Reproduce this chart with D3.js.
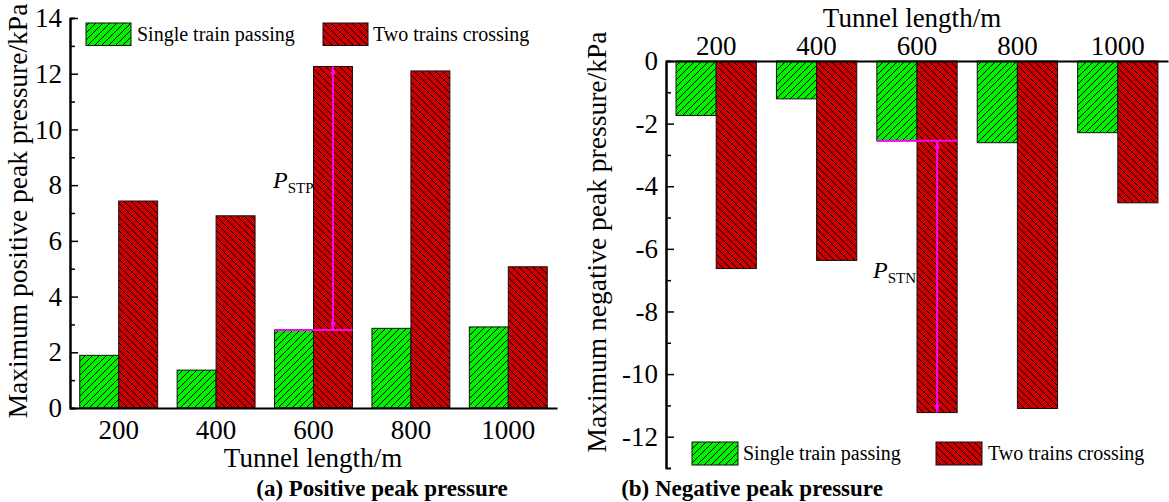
<!DOCTYPE html>
<html>
<head>
<meta charset="utf-8">
<script src="https://cdn.jsdelivr.net/npm/d3@7"></script>
<style>
  body { margin: 0; background: #fff; }
  svg text { font-family: "Liberation Serif", "Times New Roman", serif; }
</style>
</head>
<body>
<svg id="chart" width="1169" height="502"></svg>
<script>
// data
const lengths = ["200", "400", "600", "800", "1000"]
const seriesNames = ["Single train passing", "Two trains crossing"]
const singlePos = [1.89, 1.36, 2.80, 2.86, 2.91]
const twoPos = [7.43, 6.90, 12.26, 12.10, 5.07]
const singleNeg = [-1.74, -1.21, -2.55, -2.61, -2.29]
const twoNeg = [-6.63, -6.37, -11.23, -11.10, -4.53]
const posTicks = [0, 2, 4, 6, 8, 10, 12, 14]
const negTicks = [0, -2, -4, -6, -8, -10, -12]

const svg = d3.select("#chart")
const green = "#00f000", red = "#cc0000"
const serif = '"Liberation Serif", "Times New Roman", serif'

// hatch patterns
const defs = svg.append("defs")
function hatch(id, fill, dir) {
  const w = 7
  const p = defs.append("pattern").attr("id", id)
    .attr("patternUnits", "userSpaceOnUse").attr("width", w).attr("height", w)
  p.append("rect").attr("width", w).attr("height", w).attr("fill", fill)
  p.append("path")
    .attr("d", dir == "/"
      ? `M-2,2 l4,-4 M0,${w} l${w},-${w} M${w - 2},${w + 2} l4,-4`
      : `M-2,${w - 2} l4,4 M0,0 l${w},${w} M${w - 2},-2 l4,4`)
    .attr("stroke", "#000").attr("stroke-width", 1)
}
hatch("hG", green, "/")
hatch("hR", red, "\\")
const fills = ["url(#hG)", "url(#hR)"]

defs.append("marker").attr("id", "arr").attr("viewBox", "0 0 10 10")
  .attr("refX", 10).attr("refY", 5).attr("markerWidth", 4).attr("markerHeight", 4)
  .attr("markerUnits", "strokeWidth").attr("orient", "auto-start-reverse")
  .append("path").attr("d", "M0,1.5 L10,5 L0,8.5 Z").attr("fill", "#ff00ff")

function styleAxis(g) {
  g.attr("font-family", serif)
  g.select(".domain").attr("stroke", "#000").attr("stroke-width", 2)
  g.selectAll(".tick line").attr("stroke", "#000").attr("stroke-width", 1.5)
  g.selectAll("text").attr("font-size", 27).attr("fill", "#000").style("font-family", serif)
}

// ---------- (a) positive ----------
const xA = d3.scaleBand().domain(lengths).range([70, 557]).paddingInner(0.2).paddingOuter(0.1)
const sA = d3.scaleBand().domain([0, 1]).range([0, xA.bandwidth()])
const yA = d3.scaleLinear().domain([0, 14]).range([408, 18])

const gA = svg.append("g")
lengths.forEach((l, i) => {
  [singlePos[i], twoPos[i]].forEach((v, k) => {
    gA.append("rect")
      .attr("x", xA(l) + sA(k)).attr("width", sA.bandwidth())
      .attr("y", yA(v)).attr("height", yA(0) - yA(v))
      .attr("fill", fills[k]).attr("stroke", "#111").attr("stroke-width", 1)
  })
})

gA.append("g").attr("transform", "translate(70,0)")
  .call(d3.axisLeft(yA).tickValues(d3.range(1, 14, 2)).tickSize(-5).tickFormat(""))
  .call(styleAxis)
gA.append("g").attr("transform", "translate(70,0)")
  .call(d3.axisLeft(yA).tickValues(posTicks).tickSize(-8).tickSizeOuter(0).tickPadding(8).tickFormat(d => String(d)))
  .call(styleAxis)
gA.append("g").attr("transform", "translate(0,408)")
  .call(d3.axisBottom(xA).tickSize(0).tickPadding(12))
  .call(styleAxis)

gA.append("text").attr("x", 313).attr("y", 467).attr("text-anchor", "middle")
  .attr("font-size", 27).text("Tunnel length/m")
gA.append("text").attr("transform", "translate(27,211) rotate(-90)").attr("text-anchor", "middle")
  .attr("font-size", 27.5).text("Maximum positive peak pressure/kPa")
gA.append("text").attr("x", 382).attr("y", 496).attr("text-anchor", "middle")
  .attr("font-size", 23).attr("font-weight", "bold").text("(a) Positive peak pressure")

// legend a
const legA = [[86, 23, 137], [323, 23, 373]]
legA.forEach((p, k) => {
  gA.append("rect").attr("x", p[0]).attr("y", p[1]).attr("width", 45).attr("height", 22.5)
    .attr("fill", fills[k]).attr("stroke", "#111")
  gA.append("text").attr("x", p[2]).attr("y", 41).attr("font-size", 20).text(seriesNames[k])
})

// P_STP annotation
{
  const i = 2
  const yb = yA(singlePos[i]), yt = yA(twoPos[i])
  const xm = xA(lengths[i]) + sA(1) + sA.bandwidth() / 2
  gA.append("line").attr("x1", xA(lengths[i])).attr("x2", xA(lengths[i]) + xA.bandwidth())
    .attr("y1", yb).attr("y2", yb).attr("stroke", "#ff00ff").attr("stroke-width", 2)
  gA.append("line").attr("x1", xm).attr("x2", xm).attr("y1", yb).attr("y2", yt)
    .attr("stroke", "#ff00ff").attr("stroke-width", 2)
    .attr("marker-start", "url(#arr)").attr("marker-end", "url(#arr)")
  const t = gA.append("text").attr("x", 273).attr("y", 188).attr("font-size", 24)
  t.append("tspan").attr("font-style", "italic").text("P")
  t.append("tspan").attr("font-size", 15).attr("dy", 5).text("STP")
}

// ---------- (b) negative ----------
const xB = d3.scaleBand().domain(lengths).range([666, 1168]).paddingInner(0.2).paddingOuter(0.1)
const sB = d3.scaleBand().domain([0, 1]).range([0, xB.bandwidth()])
const yB = d3.scaleLinear().domain([-13, 0]).range([468, 61])

const gB = svg.append("g")
lengths.forEach((l, i) => {
  [singleNeg[i], twoNeg[i]].forEach((v, k) => {
    gB.append("rect")
      .attr("x", xB(l) + sB(k)).attr("width", sB.bandwidth())
      .attr("y", yB(0)).attr("height", yB(v) - yB(0))
      .attr("fill", fills[k]).attr("stroke", "#111").attr("stroke-width", 1)
  })
})

gB.append("g").attr("transform", "translate(666,0)")
  .call(d3.axisLeft(yB).tickValues(d3.range(-1, -13, -2)).tickSize(-5).tickFormat(""))
  .call(styleAxis)
gB.append("g").attr("transform", "translate(666,0)")
  .call(d3.axisLeft(yB).tickValues(negTicks).tickSize(-8).tickSizeOuter(0).tickPadding(8).tickFormat(d => String(d)))
  .call(styleAxis)
gB.append("g").attr("transform", "translate(0,61)")
  .call(d3.axisTop(xB).tickSize(0).tickPadding(6))
  .call(styleAxis)

gB.append("text").attr("x", 912).attr("y", 27).attr("text-anchor", "middle")
  .attr("font-size", 27).text("Tunnel length/m")
gB.append("text").attr("transform", "translate(606,242) rotate(-90)").attr("text-anchor", "middle")
  .attr("font-size", 27.5).text("Maximum negative peak pressure/kPa")
gB.append("text").attr("x", 752).attr("y", 496).attr("text-anchor", "middle")
  .attr("font-size", 23).attr("font-weight", "bold").text("(b) Negative peak pressure")

const legB = [[692, 442, 743], [936, 442, 988]]
legB.forEach((p, k) => {
  gB.append("rect").attr("x", p[0]).attr("y", p[1]).attr("width", 46).attr("height", 23)
    .attr("fill", fills[k]).attr("stroke", "#111")
  gB.append("text").attr("x", p[2]).attr("y", p[1] + 18).attr("font-size", 20).text(seriesNames[k])
})

// P_STN annotation
{
  const i = 2
  const yt = yB(singleNeg[i]), yb = yB(twoNeg[i])
  const xm = xB(lengths[i]) + sB(1) + sB.bandwidth() / 2
  gB.append("line").attr("x1", xB(lengths[i])).attr("x2", xB(lengths[i]) + xB.bandwidth())
    .attr("y1", yt).attr("y2", yt).attr("stroke", "#ff00ff").attr("stroke-width", 2)
  gB.append("line").attr("x1", xm).attr("x2", xm).attr("y1", yt).attr("y2", yb)
    .attr("stroke", "#ff00ff").attr("stroke-width", 2)
    .attr("marker-start", "url(#arr)").attr("marker-end", "url(#arr)")
  const t = gB.append("text").attr("x", 873).attr("y", 278).attr("font-size", 24)
  t.append("tspan").attr("font-style", "italic").text("P")
  t.append("tspan").attr("font-size", 15).attr("dy", 5).text("STN")
}
</script>
</body>
</html>
